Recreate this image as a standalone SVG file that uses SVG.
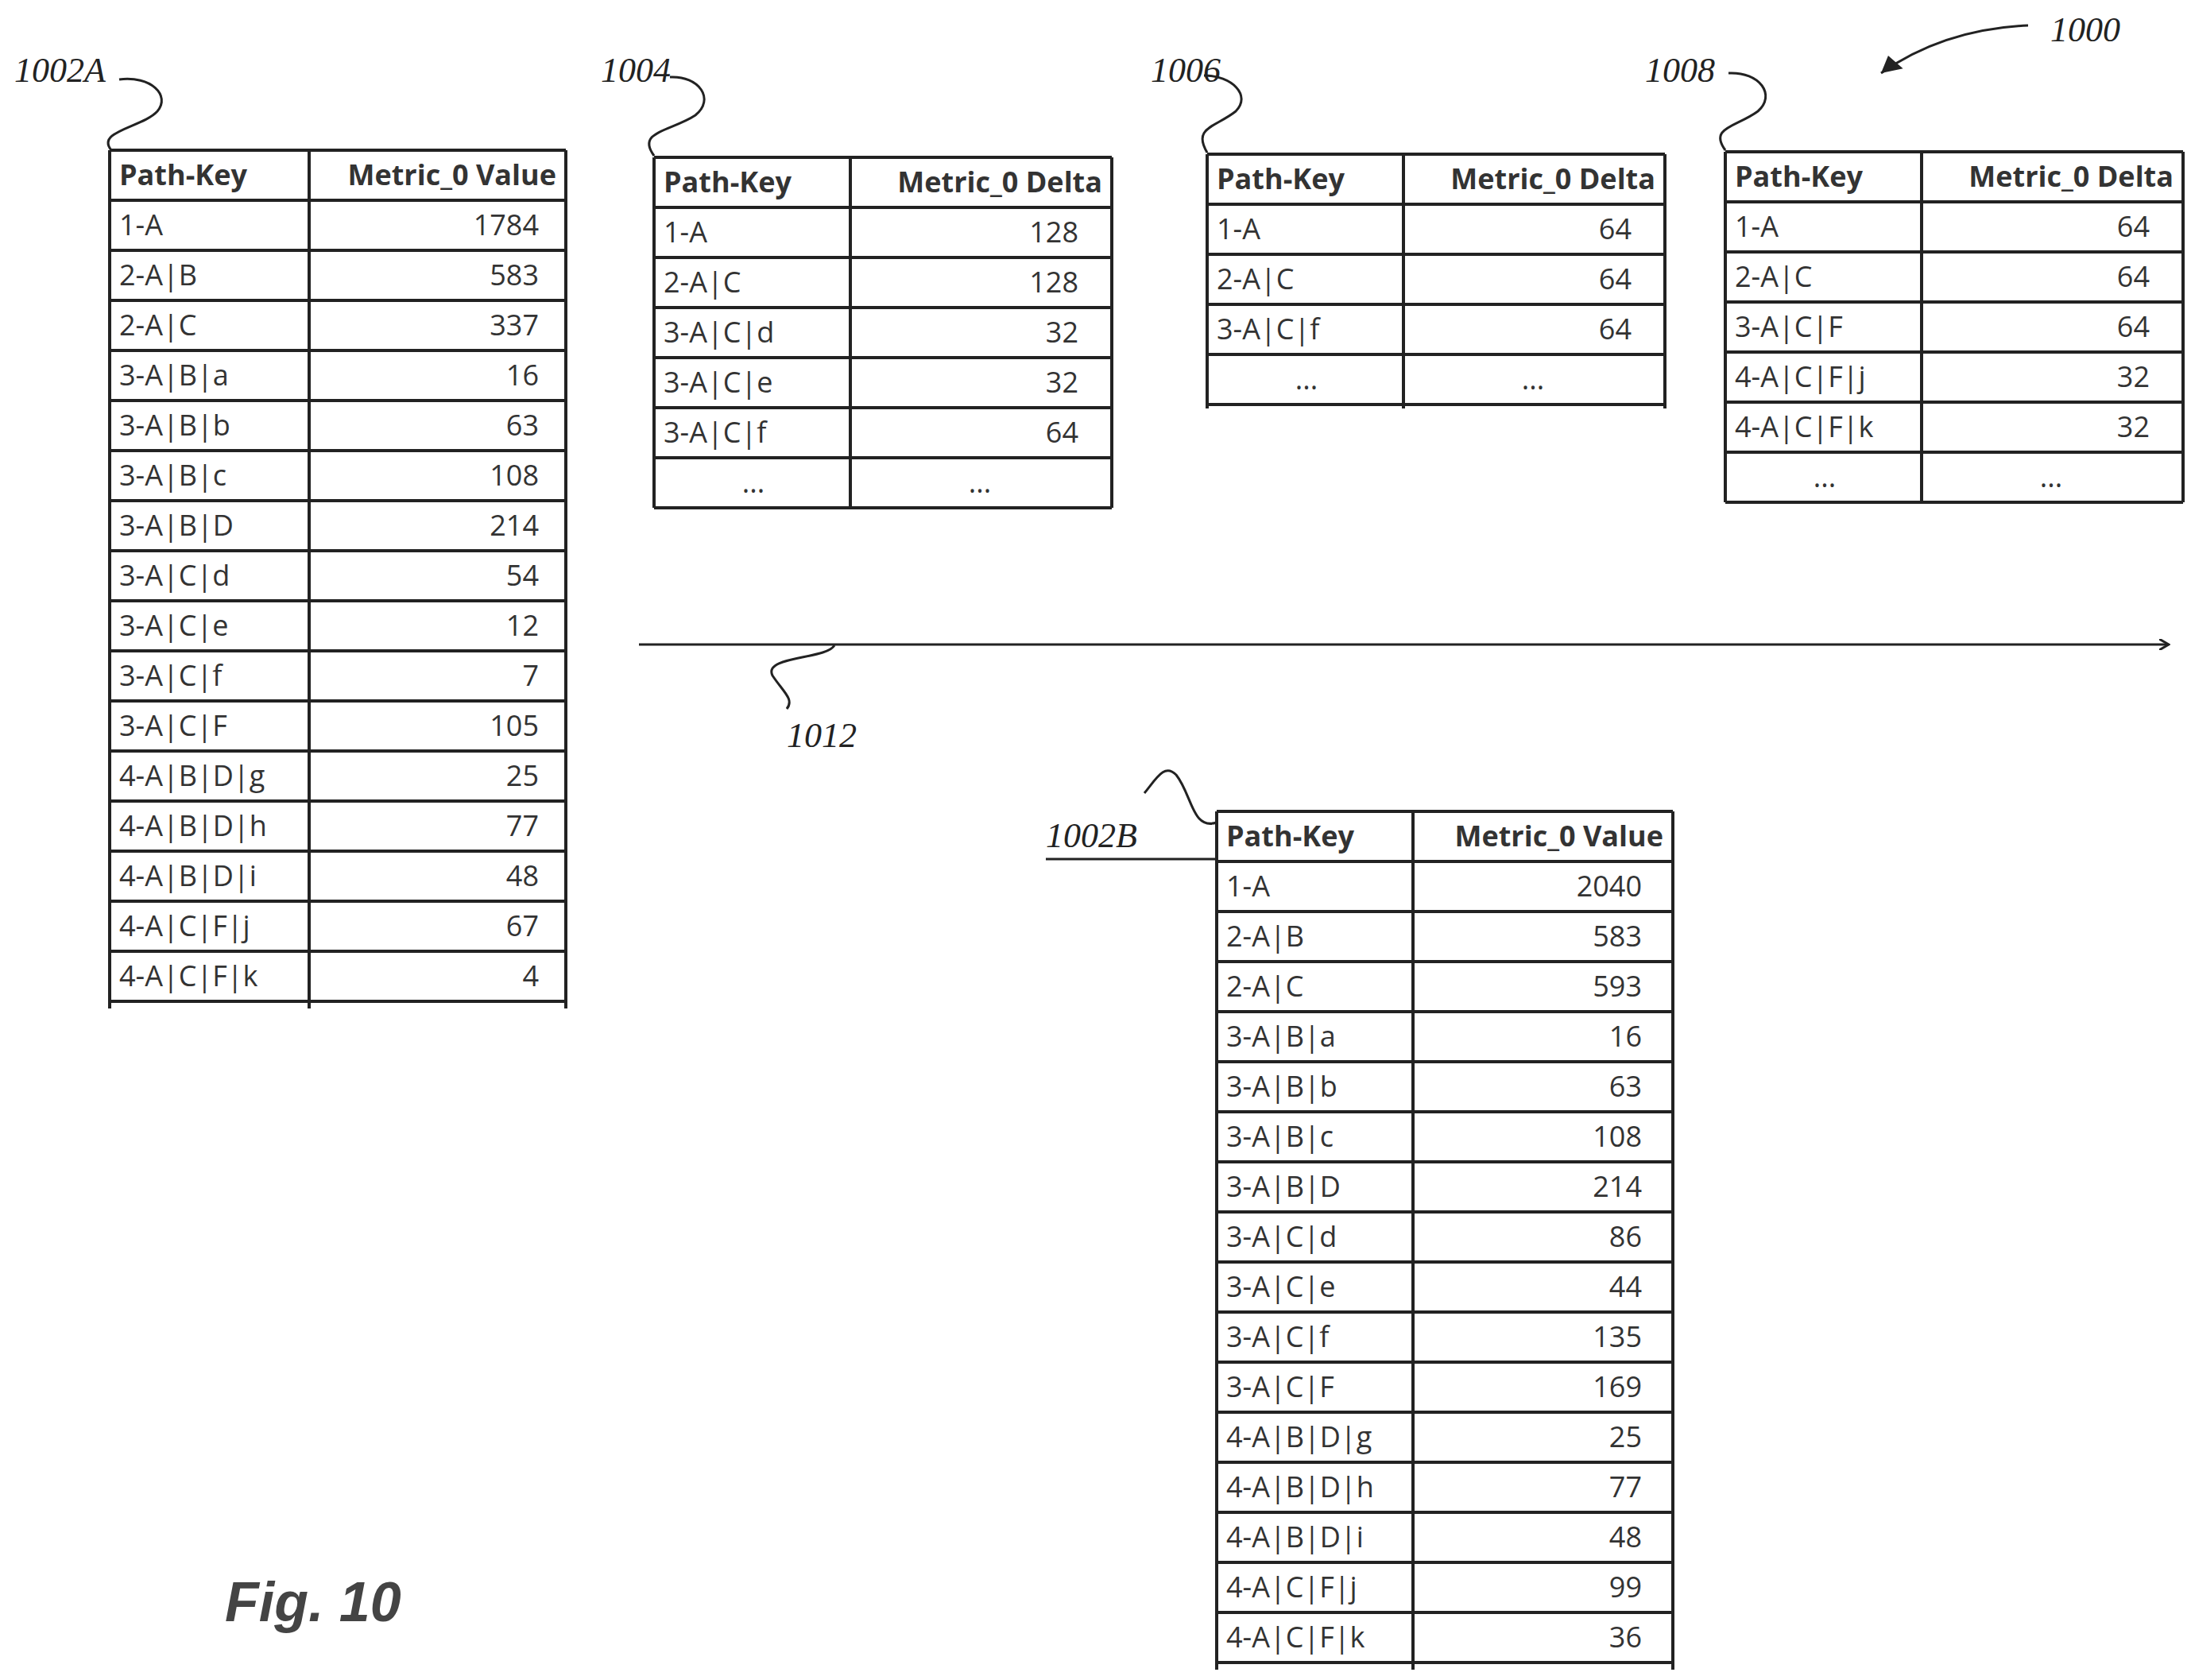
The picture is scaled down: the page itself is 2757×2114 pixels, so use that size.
<svg xmlns="http://www.w3.org/2000/svg" width="2757" height="2114" viewBox="0 0 2757 2114">
<style>
.g{stroke:#222;stroke-width:4;fill:none}
.t{font-family:"Open Sans",sans-serif;font-size:36px;fill:#333}
.r{text-anchor:end}
.h{font-weight:bold}
.l{font-family:"Liberation Serif",serif;font-style:italic;font-size:44px;fill:#222}
.w{stroke:#222;stroke-width:3;fill:none}
</style>
<defs>
<marker id="a" markerWidth="14" markerHeight="14" refX="12" refY="7" orient="auto" markerUnits="userSpaceOnUse"><path d="M0,0 L12,7 L0,14" fill="none" stroke="#222" stroke-width="3"/></marker>
<marker id="b" markerWidth="30" markerHeight="30" refX="26" refY="15" orient="auto" markerUnits="userSpaceOnUse"><path d="M0,4 L26,15 L6,28 Z" fill="#222"/></marker>
</defs>
<rect width="2757" height="2114" fill="#fff"/>

<g id="t1002A" transform="translate(138,189)">
<path class="g" d="M0,0H574M0,63H574M0,126H574M0,189H574M0,252H574M0,315H574M0,378H574M0,441H574M0,504H574M0,567H574M0,630H574M0,693H574M0,756H574M0,819H574M0,882H574M0,945H574M0,1008H574M0,1071H574M0,0V1080M251,0V1080M574,0V1080"/>
<text class="t h" x="12" y="44">Path-Key</text><text class="t h r" x="562" y="44">Metric_0 Value</text>
<text class="t" x="12" y="107">1-A</text><text class="t r" x="540" y="107">1784</text>
<text class="t" x="12" y="170">2-A|B</text><text class="t r" x="540" y="170">583</text>
<text class="t" x="12" y="233">2-A|C</text><text class="t r" x="540" y="233">337</text>
<text class="t" x="12" y="296">3-A|B|a</text><text class="t r" x="540" y="296">16</text>
<text class="t" x="12" y="359">3-A|B|b</text><text class="t r" x="540" y="359">63</text>
<text class="t" x="12" y="422">3-A|B|c</text><text class="t r" x="540" y="422">108</text>
<text class="t" x="12" y="485">3-A|B|D</text><text class="t r" x="540" y="485">214</text>
<text class="t" x="12" y="548">3-A|C|d</text><text class="t r" x="540" y="548">54</text>
<text class="t" x="12" y="611">3-A|C|e</text><text class="t r" x="540" y="611">12</text>
<text class="t" x="12" y="674">3-A|C|f</text><text class="t r" x="540" y="674">7</text>
<text class="t" x="12" y="737">3-A|C|F</text><text class="t r" x="540" y="737">105</text>
<text class="t" x="12" y="800">4-A|B|D|g</text><text class="t r" x="540" y="800">25</text>
<text class="t" x="12" y="863">4-A|B|D|h</text><text class="t r" x="540" y="863">77</text>
<text class="t" x="12" y="926">4-A|B|D|i</text><text class="t r" x="540" y="926">48</text>
<text class="t" x="12" y="989">4-A|C|F|j</text><text class="t r" x="540" y="989">67</text>
<text class="t" x="12" y="1052">4-A|C|F|k</text><text class="t r" x="540" y="1052">4</text>
</g>

<g id="t1004" transform="translate(823,198)">
<path class="g" d="M0,0H576M0,63H576M0,126H576M0,189H576M0,252H576M0,315H576M0,378H576M0,441H576M0,0V441M247,0V441M576,0V441"/>
<text class="t h" x="12" y="44">Path-Key</text><text class="t h r" x="564" y="44">Metric_0 Delta</text>
<text class="t" x="12" y="107">1-A</text><text class="t r" x="534" y="107">128</text>
<text class="t" x="12" y="170">2-A|C</text><text class="t r" x="534" y="170">128</text>
<text class="t" x="12" y="233">3-A|C|d</text><text class="t r" x="534" y="233">32</text>
<text class="t" x="12" y="296">3-A|C|e</text><text class="t r" x="534" y="296">32</text>
<text class="t" x="12" y="359">3-A|C|f</text><text class="t r" x="534" y="359">64</text>
<text class="t" x="125" y="422" text-anchor="middle" font-size="22">...</text><text class="t" x="410" y="422" text-anchor="middle" font-size="22">...</text>
</g>

<g id="t1006" transform="translate(1519,194)">
<path class="g" d="M0,0H576M0,63H576M0,126H576M0,189H576M0,252H576M0,315H576M0,0V320M247,0V320M576,0V320"/>
<text class="t h" x="12" y="44">Path-Key</text><text class="t h r" x="564" y="44">Metric_0 Delta</text>
<text class="t" x="12" y="107">1-A</text><text class="t r" x="534" y="107">64</text>
<text class="t" x="12" y="170">2-A|C</text><text class="t r" x="534" y="170">64</text>
<text class="t" x="12" y="233">3-A|C|f</text><text class="t r" x="534" y="233">64</text>
<text class="t" x="125" y="296" text-anchor="middle" font-size="22">...</text><text class="t" x="410" y="296" text-anchor="middle" font-size="22">...</text>
</g>

<g id="t1008" transform="translate(2171,191)">
<path class="g" d="M0,0H576M0,63H576M0,126H576M0,189H576M0,252H576M0,315H576M0,378H576M0,441H576M0,0V441M247,0V441M576,0V441"/>
<text class="t h" x="12" y="44">Path-Key</text><text class="t h r" x="564" y="44">Metric_0 Delta</text>
<text class="t" x="12" y="107">1-A</text><text class="t r" x="534" y="107">64</text>
<text class="t" x="12" y="170">2-A|C</text><text class="t r" x="534" y="170">64</text>
<text class="t" x="12" y="233">3-A|C|F</text><text class="t r" x="534" y="233">64</text>
<text class="t" x="12" y="296">4-A|C|F|j</text><text class="t r" x="534" y="296">32</text>
<text class="t" x="12" y="359">4-A|C|F|k</text><text class="t r" x="534" y="359">32</text>
<text class="t" x="125" y="422" text-anchor="middle" font-size="22">...</text><text class="t" x="410" y="422" text-anchor="middle" font-size="22">...</text>
</g>

<g id="t1002B" transform="translate(1531,1021)">
<path class="g" d="M0,0H574M0,63H574M0,126H574M0,189H574M0,252H574M0,315H574M0,378H574M0,441H574M0,504H574M0,567H574M0,630H574M0,693H574M0,756H574M0,819H574M0,882H574M0,945H574M0,1008H574M0,1071H574M0,0V1080M247,0V1080M574,0V1080"/>
<text class="t h" x="12" y="44">Path-Key</text><text class="t h r" x="562" y="44">Metric_0 Value</text>
<text class="t" x="12" y="107">1-A</text><text class="t r" x="535" y="107">2040</text>
<text class="t" x="12" y="170">2-A|B</text><text class="t r" x="535" y="170">583</text>
<text class="t" x="12" y="233">2-A|C</text><text class="t r" x="535" y="233">593</text>
<text class="t" x="12" y="296">3-A|B|a</text><text class="t r" x="535" y="296">16</text>
<text class="t" x="12" y="359">3-A|B|b</text><text class="t r" x="535" y="359">63</text>
<text class="t" x="12" y="422">3-A|B|c</text><text class="t r" x="535" y="422">108</text>
<text class="t" x="12" y="485">3-A|B|D</text><text class="t r" x="535" y="485">214</text>
<text class="t" x="12" y="548">3-A|C|d</text><text class="t r" x="535" y="548">86</text>
<text class="t" x="12" y="611">3-A|C|e</text><text class="t r" x="535" y="611">44</text>
<text class="t" x="12" y="674">3-A|C|f</text><text class="t r" x="535" y="674">135</text>
<text class="t" x="12" y="737">3-A|C|F</text><text class="t r" x="535" y="737">169</text>
<text class="t" x="12" y="800">4-A|B|D|g</text><text class="t r" x="535" y="800">25</text>
<text class="t" x="12" y="863">4-A|B|D|h</text><text class="t r" x="535" y="863">77</text>
<text class="t" x="12" y="926">4-A|B|D|i</text><text class="t r" x="535" y="926">48</text>
<text class="t" x="12" y="989">4-A|C|F|j</text><text class="t r" x="535" y="989">99</text>
<text class="t" x="12" y="1052">4-A|C|F|k</text><text class="t r" x="535" y="1052">36</text>
</g>

<g id="connectors">
<path class="w" d="M804,811H2729" stroke-width="5" marker-end="url(#a)"/>
<path class="w" d="M1050,812 C1040,830 960,825 972,850 C985,870 1000,880 990,892"/>
<path class="w" d="M2552,32 C2480,35 2420,55 2367,92" marker-end="url(#b)"/>
<path class="w" d="M150,100 C190,95 215,120 198,140 C180,160 120,165 140,189"/>
<path class="w" d="M843,97 C880,95 900,125 875,145 C845,165 800,165 823,196"/>
<path class="w" d="M1515,95 C1550,95 1575,120 1555,140 C1530,160 1500,160 1519,192"/>
<path class="w" d="M2175,92 C2215,90 2235,120 2212,140 C2185,160 2150,160 2171,189"/>
<path class="w" d="M1316,1081H1531 M1531,1035 C1500,1045 1500,1000 1480,975 C1465,960 1455,980 1440,998"/>
</g>

<text class="l" x="18" y="103">1002A</text>
<text class="l" x="756" y="103">1004</text>
<text class="l" x="1448" y="103">1006</text>
<text class="l" x="2070" y="103">1008</text>
<text class="l" x="2580" y="52">1000</text>
<text class="l" x="990" y="940">1012</text>
<text class="l" x="1316" y="1066">1002B</text>
<text x="283" y="2040" font-family="Liberation Sans,sans-serif" font-style="italic" font-weight="bold" font-size="70" fill="#444">Fig. 10</text>
</svg>
